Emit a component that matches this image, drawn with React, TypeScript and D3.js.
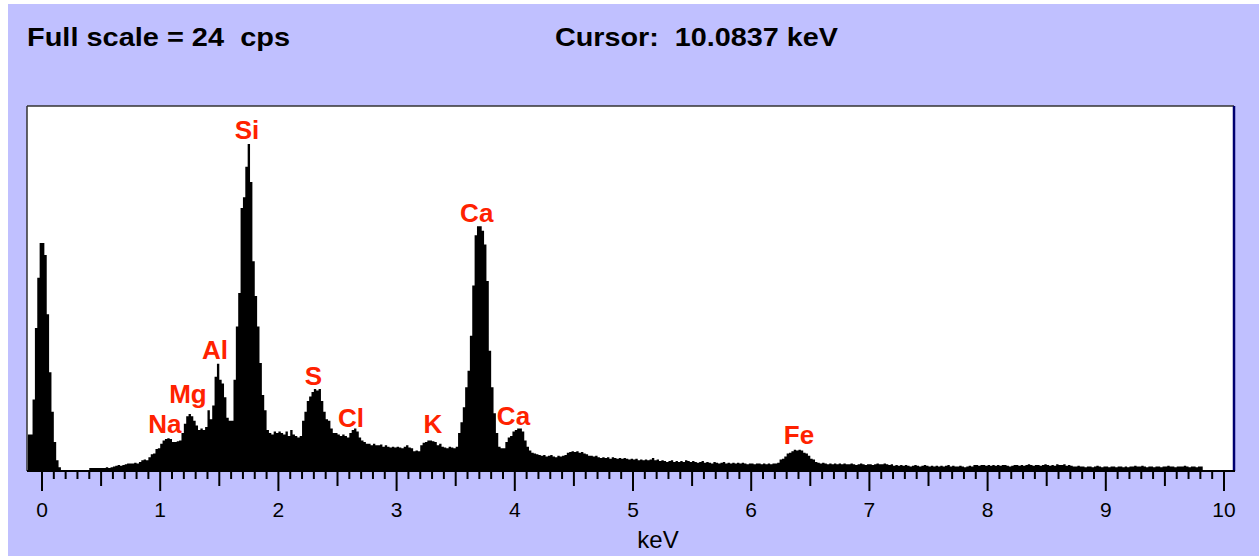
import React from 'react';
import * as d3 from 'd3';

// ---- data (cps per 0.02 keV channel) ----
const FULL_SCALE = 24; // cps
const BIN_START = -0.12; // keV
const BIN_WIDTH = 0.02; // keV

const leadIn = [2.4, 2.4, 4.7, 9.4, 12.7, 15.0];
const seg0 = [
  15.0, 14.2, 10.3, 6.5, 3.9, 1.9, 0.7, 0.25, 0.04, 0.04,
  0.04, 0.04, 0.04, 0.04, 0.04, 0.04, 0.04, 0.04, 0.04, 0.04,
  0.2, 0.2, 0.2, 0.2, 0.2, 0.2, 0.2, 0.25, 0.2, 0.25,
  0.3, 0.35, 0.4, 0.35, 0.4, 0.45, 0.5, 0.5, 0.5, 0.55,
  0.5, 0.6, 0.7, 0.75, 0.7, 0.9, 1.1, 1.15, 1.45, 1.5,
];
const seg1 = [
  1.8, 2.0, 2.1, 2.15, 2.1, 1.9, 1.9, 1.95, 2.0, 2.5,
  3.1, 3.6, 3.75, 3.6, 3.3, 3.0, 2.7, 2.8, 2.7, 2.9,
  4.0, 3.4, 4.3, 6.2, 7.05, 6.0, 5.75, 4.85, 3.5, 3.3,
  3.3, 6.0, 9.5, 11.7, 17.3, 18.0, 20.0, 21.5, 19.0, 13.8,
  11.5, 9.5, 7.1, 5.0, 4.0, 2.7, 2.5, 2.4, 2.6, 2.5,
];
const seg2 = [
  2.6, 2.5, 2.4, 2.6, 2.3, 2.7, 2.4, 2.3, 2.2, 2.3,
  3.3, 3.9, 4.6, 4.9, 5.2, 5.4, 5.3, 5.4, 4.6, 3.9,
  3.4, 3.3, 2.8, 2.5, 2.5, 2.4, 2.3, 2.4, 2.3, 2.2,
  2.5, 2.7, 2.8, 2.6, 2.2, 2.0, 1.9, 1.8, 1.8, 1.7,
  1.8, 1.7, 1.7, 1.75, 1.6, 1.7, 1.6, 1.55, 1.6, 1.55,
];
const seg3 = [
  1.6, 1.55, 1.5, 1.6, 1.7, 1.55, 1.5, 1.3, 1.35, 1.3,
  1.7, 1.85, 1.9, 2.0, 2.0, 1.95, 1.9, 1.7, 1.8, 1.6,
  1.55, 1.5, 1.6, 1.55, 1.5, 1.6, 2.5, 3.2, 4.2, 5.5,
  6.6, 8.9, 12.2, 15.5, 16.1, 16.1, 15.8, 14.9, 12.5, 7.9,
  5.5, 3.8, 2.5, 1.6, 1.5, 1.5, 1.9, 2.2, 2.3, 2.6,
];
const seg4 = [
  2.7, 2.8, 2.8, 2.6, 2.0, 1.6, 1.35, 1.2, 1.15, 1.1,
  1.05, 1.0, 1.05, 0.95, 1.0, 1.05, 0.95, 0.9, 1.0, 0.95,
  1.0, 1.05, 1.2, 1.25, 1.3, 1.25, 1.3, 1.2, 1.25, 1.15,
  1.1, 1.0, 1.0, 0.95, 1.0, 0.9, 0.85, 0.9, 0.85, 0.9,
  0.8, 0.9, 0.85, 0.8, 0.85, 0.8, 0.85, 0.8, 0.75, 0.8,
];
const seg5 = [
  0.75, 0.8, 0.7, 0.75, 0.7, 0.75, 0.7, 0.75, 0.85, 0.7,
  0.75, 0.65, 0.7, 0.65, 0.6, 0.65, 0.7, 0.6, 0.65, 0.6,
  0.65, 0.6, 0.7, 0.65, 0.6, 0.65, 0.6, 0.55, 0.6, 0.65,
  0.55, 0.6, 0.55, 0.5, 0.6, 0.55, 0.5, 0.55, 0.6, 0.5,
  0.55, 0.5, 0.55, 0.5, 0.55, 0.5, 0.55, 0.5, 0.45, 0.5,
];
const seg6 = [
  0.5, 0.45, 0.5, 0.5, 0.45, 0.5, 0.45, 0.5, 0.45, 0.5,
  0.5, 0.55, 0.75, 0.8, 0.95, 1.15, 1.2, 1.3, 1.4, 1.35,
  1.4, 1.35, 1.2, 1.15, 1.0, 0.8, 0.75, 0.6, 0.55, 0.5,
  0.55, 0.5, 0.45, 0.5, 0.45, 0.5, 0.45, 0.5, 0.45, 0.5,
  0.45, 0.45, 0.5, 0.45, 0.4, 0.45, 0.5, 0.45, 0.4, 0.45,
];
const seg7 = [
  0.45, 0.4, 0.45, 0.5, 0.45, 0.45, 0.5, 0.45, 0.4, 0.45,
  0.35, 0.4, 0.35, 0.4, 0.35, 0.4, 0.35, 0.3, 0.35, 0.4,
  0.35, 0.3, 0.35, 0.4, 0.35, 0.3, 0.35, 0.3, 0.35, 0.3,
  0.35, 0.3, 0.35, 0.4, 0.3, 0.35, 0.3, 0.3, 0.35, 0.3,
  0.25, 0.3, 0.35, 0.3, 0.4, 0.4, 0.35, 0.4, 0.4, 0.35,
];
const seg8 = [
  0.4, 0.35, 0.4, 0.35, 0.4, 0.35, 0.4, 0.4, 0.35, 0.3,
  0.35, 0.4, 0.4, 0.35, 0.4, 0.35, 0.4, 0.45, 0.4, 0.35,
  0.4, 0.4, 0.35, 0.4, 0.45, 0.4, 0.35, 0.4, 0.35, 0.45,
  0.4, 0.4, 0.45, 0.35, 0.4, 0.35, 0.3, 0.3, 0.35, 0.3,
  0.3, 0.25, 0.3, 0.3, 0.25, 0.3, 0.35, 0.3, 0.25, 0.3,
];
const seg9 = [
  0.3, 0.25, 0.3, 0.3, 0.25, 0.3, 0.3, 0.25, 0.3, 0.25,
  0.3, 0.3, 0.35, 0.3, 0.3, 0.35, 0.3, 0.25, 0.3, 0.3,
  0.25, 0.3, 0.3, 0.25, 0.3, 0.3, 0.35, 0.3, 0.3, 0.25,
  0.3, 0.3, 0.3, 0.35, 0.3, 0.25, 0.3, 0.3, 0.25, 0.3,
  0.3,
];

const tickLabels = ['0', '1', '2', '3', '4', '5', '6', '7', '8', '9', '10'];
const peakNames = ['Na', 'Mg', 'Al', 'Si', 'S', 'Cl', 'K', 'Ca', 'Ca', 'Fe'];
const peakKeV = [1.04, 1.235, 1.464, 1.734, 2.297, 2.614, 3.308, 3.678, 3.989, 6.404];
const peakLabelCps = [2.5, 4.47, 7.36, 21.83, 5.65, 2.89, 2.5, 16.39, 3.02, 1.78];
const headerLeft = 'Full scale = 24  cps';
const headerRight = 'Cursor:  10.0837 keV';
const axisTitle = 'keV';

// ---- layout ----
const W = 1259;
const H = 556;
const PLOT_L = 27;
const PLOT_R = 1234;
const PLOT_T = 106;
const PLOT_B = 471;
const BG = '#c0c0ff';
const LABEL_RED = '#ff2200';
const FONT = '"Liberation Sans", Arial, sans-serif';

export default function App() {
  const counts = [
    ...leadIn, ...seg0, ...seg1, ...seg2, ...seg3, ...seg4,
    ...seg5, ...seg6, ...seg7, ...seg8, ...seg9,
  ];
  const pts: [number, number][] = counts.map((v, i) => [BIN_START + i * BIN_WIDTH, v]);
  pts.push([BIN_START + counts.length * BIN_WIDTH, counts[counts.length - 1]]);

  const x = d3.scaleLinear().domain([0, 10]).range([42, 1224]);
  const y = d3.scaleLinear().domain([0, FULL_SCALE]).range([PLOT_B, PLOT_T]);

  const area = d3
    .area<[number, number]>()
    .x((d) => x(d[0]))
    .y0(y(0))
    .y1((d) => y(d[1]))
    .curve(d3.curveStepAfter);

  const ticks = d3.range(0, 101).map((i) => i / 10);

  return (
    <svg
      width={W}
      height={H}
      style={{ position: 'absolute', left: 0, top: 0, display: 'block' }}
    >
      <defs>
        <clipPath id="plotClip">
          <rect x={PLOT_L} y={PLOT_T} width={PLOT_R - PLOT_L} height={PLOT_B - PLOT_T} />
        </clipPath>
      </defs>
      <rect x={0} y={0} width={W} height={H} fill="#ffffff" />
      <rect x={8} y={4} width={W - 8} height={H - 4} fill={BG} />

      <text
        x={27}
        y={46}
        fontFamily={FONT}
        fontWeight="bold"
        fontSize={25}
        textLength={263}
        lengthAdjust="spacingAndGlyphs"
        fill="#000"
        style={{ whiteSpace: 'pre' }}
      >
        {headerLeft}
      </text>
      <text
        x={555}
        y={46}
        fontFamily={FONT}
        fontWeight="bold"
        fontSize={25}
        textLength={283}
        lengthAdjust="spacingAndGlyphs"
        fill="#000"
        style={{ whiteSpace: 'pre' }}
      >
        {headerRight}
      </text>

      {/* plot area */}
      <rect x={PLOT_L} y={PLOT_T} width={PLOT_R - PLOT_L} height={PLOT_B - PLOT_T} fill="#fff" />
      <path d={area(pts) || ''} fill="#000" clipPath="url(#plotClip)" />
      <line x1={PLOT_L} x2={PLOT_R} y1={PLOT_T} y2={PLOT_T} stroke="#333" strokeWidth={1.5} />
      <line x1={PLOT_L} x2={PLOT_L} y1={PLOT_T} y2={PLOT_B} stroke="#333" strokeWidth={1.5} />
      <line x1={PLOT_R} x2={PLOT_R} y1={PLOT_T} y2={PLOT_B} stroke="#000070" strokeWidth={2.5} />
      <line x1={PLOT_L} x2={PLOT_R + 1} y1={PLOT_B} y2={PLOT_B} stroke="#000" strokeWidth={2} />

      {/* ticks */}
      {ticks.map((t, i) => {
        const len = i % 10 === 0 ? 20 : i % 5 === 0 ? 15 : 8;
        return (
          <line
            key={i}
            x1={x(t)}
            x2={x(t)}
            y1={PLOT_B}
            y2={PLOT_B + len}
            stroke="#000"
            strokeWidth={2}
          />
        );
      })}
      {tickLabels.map((lab, i) => (
        <text
          key={lab}
          x={x(i)}
          y={517}
          textAnchor="middle"
          fontFamily={FONT}
          fontSize={21}
          fill="#000"
        >
          {lab}
        </text>
      ))}
      <text x={658} y={548} textAnchor="middle" fontFamily={FONT} fontSize={24} fill="#000">
        {axisTitle}
      </text>

      {/* peak labels */}
      {peakNames.map((n, i) => (
        <text
          key={i}
          x={x(peakKeV[i])}
          y={y(peakLabelCps[i])}
          textAnchor="middle"
          fontFamily={FONT}
          fontWeight="bold"
          fontSize={26}
          fill={LABEL_RED}
        >
          {n}
        </text>
      ))}
    </svg>
  );
}
